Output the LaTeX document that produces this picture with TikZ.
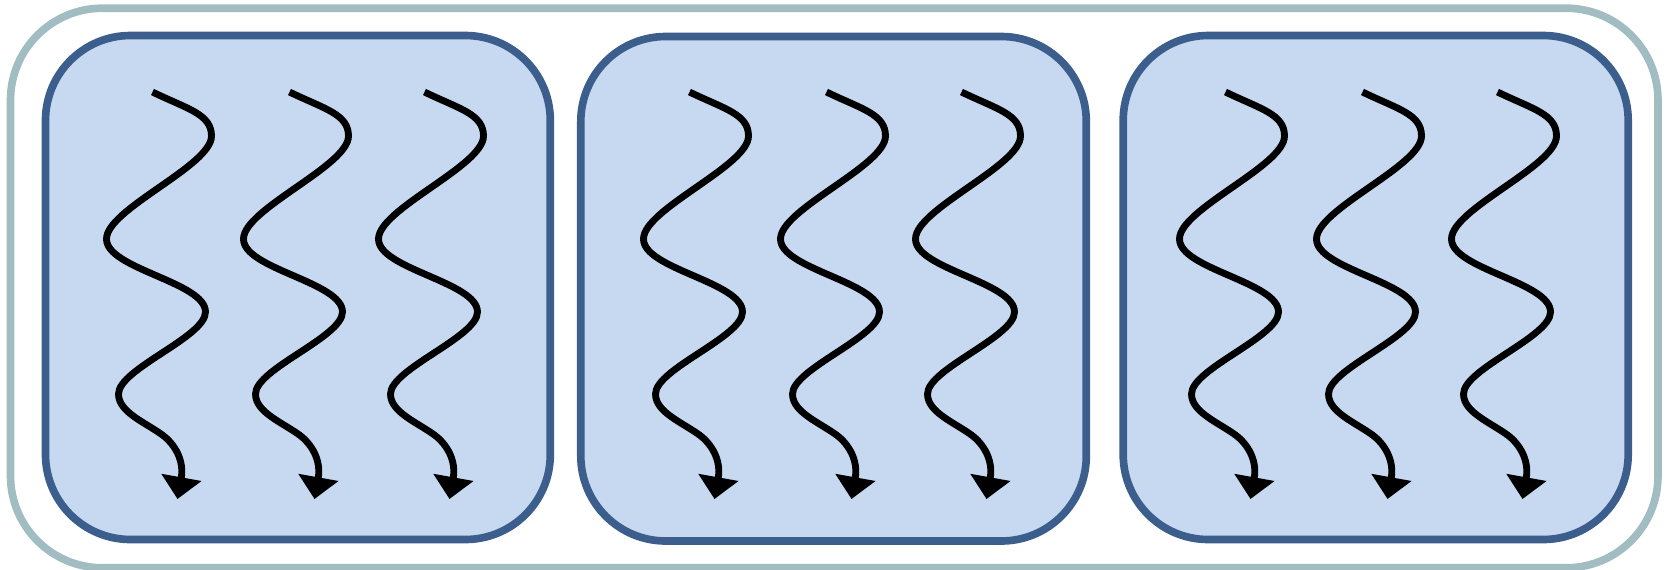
\documentclass[tikz,border=0pt]{standalone}
\usetikzlibrary{arrows.meta}
\definecolor{panelfill}{HTML}{C6D9F1}
\definecolor{paneldraw}{HTML}{3B5E8C}
\definecolor{framedraw}{HTML}{A1BDC2}
\tikzset{
  panel/.style={draw=paneldraw, fill=panelfill, line width=4.35pt, rounded corners=1.7cm},
  frame/.style={draw=framedraw, line width=4.35pt, rounded corners=1.84cm},
  wave/.style={line width=3.9pt, -{Triangle[width=22.5pt,length=12.5pt]}}
}
\begin{document}
\begin{tikzpicture}[x=0.02cm,y=-0.02cm]
\useasboundingbox (0,0) rectangle (1667,569);
\draw [frame] (10.5,8.2) rectangle (1658,567.8);
\draw [panel] (45.5,35.5) rectangle (550.3,539.5);
\draw [panel] (580.8,36.5) rectangle (1086.3,541);
\draw [panel] (1123.2,35.5) rectangle (1628.2,539.5);
% wavy arrows, three per panel
\foreach \x in {152.5,689.5,1225.5}
  \foreach \d in {0,137,272}
    \draw [wave, shift={(\x+\d,92)}] (0,0) .. controls (35,17) and (59,22) .. (59,44)
      .. controls (59,74) and (-46,117) .. (-46,147)
      .. controls (-46,177) and (53,190) .. (53,220)
      .. controls (53,245) and (-34,277) .. (-34,302)
      .. controls (-34,320) and (-8,330) .. (10,343)
      .. controls (22,352) and (32,368) .. (25,407);
\end{tikzpicture}
\end{document}
